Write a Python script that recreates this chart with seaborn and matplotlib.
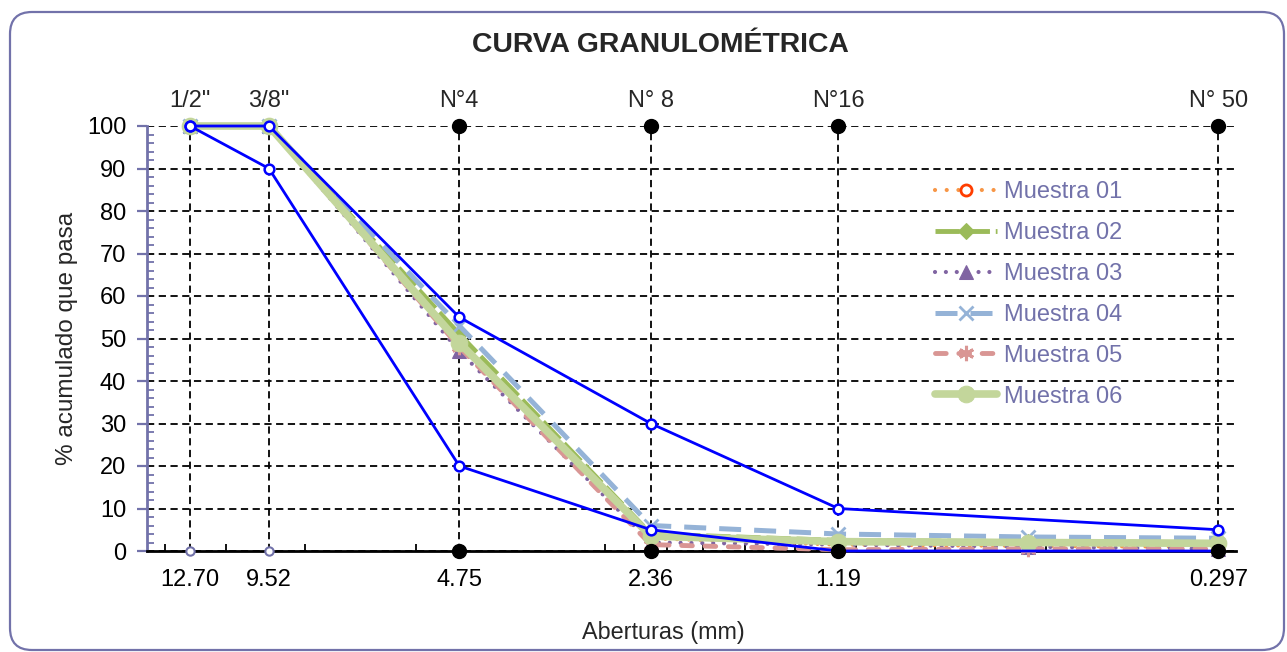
"""
Curva granulométrica: seis muestras con sus límites (huso) en eje log invertido.
"""
import matplotlib
matplotlib.use("Agg")
import matplotlib.pyplot as plt
from matplotlib.patches import FancyBboxPatch
from matplotlib.ticker import FixedLocator, NullFormatter, NullLocator
import seaborn as sns


# Tamices (mm) con rótulos arriba y abajo
SIEVE_MM = [12.70, 9.52, 4.75, 2.36, 1.19, 0.297]
SIEVE_NAMES = ['1/2"', '3/8"', "N°4", "N° 8", "N°16", "N° 50"]
SIEVE_TICKS = ["12.70", "9.52", "4.75", "2.36", "1.19", "0.297"]

# Aberturas usadas por las muestras (incluye N°30 sin rótulo)
SAMPLE_MM = [12.70, 9.52, 4.75, 2.36, 1.19, 0.595, 0.297]
MUESTRA_01 = [100, 100, 49, 3.0, 1.5, 1.2, 1.0]
MUESTRA_02 = [100, 100, 51, 4.0, 2.5, 2.2, 2.0]
MUESTRA_03 = [100, 100, 47, 2.0, 1.5, 1.0, 0.5]
MUESTRA_04 = [100, 100, 53, 6.0, 4.0, 3.3, 3.0]
MUESTRA_05 = [100, 100, 48, 1.5, 0.3, 0.5, 0.5]
MUESTRA_06 = [100, 100, 49, 3.5, 2.2, 2.0, 1.8]
SAMPLE_NAMES = ["Muestra 01", "Muestra 02", "Muestra 03",
                "Muestra 04", "Muestra 05", "Muestra 06"]

# Huso granulométrico
LIMITE_SUP = [100, 100, 55, 30, 10, 5]
LIMITE_INF = [100, 90, 20, 5, 0, 0]

SLATE = "#7272AA"
BLUE = "#0000FF"

STYLES = [
    dict(color="#F79646", ls=(0, (0.01, 2.8)), lw=3, dash_capstyle="round",
         marker="o", ms=8, mfc="white", mec="#FF3D00", mew=2),
    dict(color="#9BBB59", ls=(0, (5, 1.2)), lw=3.5,
         marker="D", ms=8, mec="#9BBB59"),
    dict(color="#8064A2", ls=(0, (0.01, 2.6)), lw=3, dash_capstyle="round",
         marker="^", ms=10, mec="#8064A2"),
    dict(color="#95B3D7", ls=(0, (4.4, 2.6)), lw=3.6,
         marker="x", ms=10, mew=2, mec="#95B3D7"),
    dict(color="#D99694", ls=(0, (2.2, 2.6)), lw=3.5, dash_capstyle="round",
         marker=(6, 2, 0), ms=11, mew=2.2, mec="#D99694"),
    dict(color="#C3D69B", ls="-", lw=5.5,
         marker="o", ms=12, mec="#C3D69B"),
]


def main() -> None:
    sns.set_theme(style="white")
    plt.rcParams["font.family"] = ["Liberation Sans", "DejaVu Sans"]

    fig = plt.figure(figsize=(12.87, 6.52), dpi=100)
    ax = fig.add_axes([147 / 1287, 1 - 551 / 652, 1089 / 1287, 425 / 652])

    # marco redondeado alrededor de todo
    fig.patches.append(FancyBboxPatch(
        (10, 2), 1274, 638, boxstyle="round,pad=0,rounding_size=22",
        transform=None, fill=False, edgecolor=SLATE, linewidth=1.6))

    series = [MUESTRA_01, MUESTRA_02, MUESTRA_03, MUESTRA_04, MUESTRA_05, MUESTRA_06]
    for i, (name, vals, st) in enumerate(zip(SAMPLE_NAMES, series, STYLES)):
        sns.lineplot(x=SAMPLE_MM, y=vals, ax=ax, label=name, sort=False,
                     clip_on=False, zorder=3 + i * 0.1, **st)

    for lim in (LIMITE_SUP, LIMITE_INF):
        sns.lineplot(x=SIEVE_MM, y=lim, ax=ax, color=BLUE, lw=2, marker="o",
                     ms=7, mfc="white", mec=BLUE, mew=1.8, sort=False,
                     clip_on=False, zorder=5, label="_nolegend_")

    # puntos guía sobre los ejes
    for yv in (0, 100):
        ax.plot(SIEVE_MM[2:], [yv] * len(SIEVE_MM[2:]), "o", color="black",
                ms=10, clip_on=False, zorder=6)
    ax.plot(SIEVE_MM[:2], [0, 0], "o", ms=6, mfc="white", mec=SLATE, mew=1.5,
            clip_on=False, zorder=6)

    ax.set_xscale("log")
    ax.set_xlim(14.86, 0.2785)
    ax.set_ylim(0, 100)

    ax.set_xticks(SIEVE_MM, SIEVE_TICKS)
    ax.xaxis.set_minor_locator(FixedLocator(
        [k * 0.2785 for k in range(2, 11)] + [k * 2.785 for k in range(2, 6)]))
    ax.xaxis.set_minor_formatter(NullFormatter())
    ax.tick_params(axis="x", which="major", length=0, pad=13, labelsize=17,
                   labelcolor="black")
    ax.tick_params(axis="x", which="minor", length=5, width=1.3, direction="in",
                   color="black", bottom=True)

    ax.set_yticks(range(0, 101, 10))
    ax.yaxis.set_minor_locator(FixedLocator(range(0, 101, 2)))
    ax.tick_params(axis="y", which="major", length=7, width=1.6, direction="out",
                   color=SLATE, pad=8, labelsize=17, labelcolor="black", left=True)
    ax.tick_params(axis="y", which="minor", length=5, width=1.3, direction="in",
                   color=SLATE, left=True)

    ax.grid(True, which="major", color="black", lw=1.3, ls=(0, (4, 2.5)), zorder=1)
    ax.set_axisbelow(True)
    for side in ("top", "right"):
        ax.spines[side].set_visible(False)
    ax.spines["left"].set_color(SLATE)
    ax.spines["left"].set_linewidth(2)
    ax.spines["bottom"].set_color("black")
    ax.spines["bottom"].set_linewidth(2)

    top = ax.secondary_xaxis("top")
    top.set_xticks(SIEVE_MM, SIEVE_NAMES)
    top.xaxis.set_minor_locator(NullLocator())
    top.tick_params(which="both", length=0, pad=10, labelsize=17)
    top.spines["top"].set_visible(False)

    ax.set_ylabel("% acumulado que pasa", fontsize=17.5)
    ax.yaxis.set_label_coords(-0.063, 0.5)
    ax.set_xlabel("Aberturas (mm)", fontsize=16.8)
    ax.xaxis.set_label_coords(0.474, -0.165)

    fig.text(660 / 1287, 1 - 45 / 652, "CURVA GRANULOMÉTRICA", ha="center",
             va="center", fontsize=20.4, fontweight="bold")

    ax.legend(loc="upper left", bbox_to_anchor=(0.713, 0.898), frameon=False,
              fontsize=17, labelcolor=SLATE, handlelength=2.6,
              handletextpad=0.3, labelspacing=0.8, borderpad=0)

    fig.savefig("out.png", dpi=100)


if __name__ == "__main__":
    main()
